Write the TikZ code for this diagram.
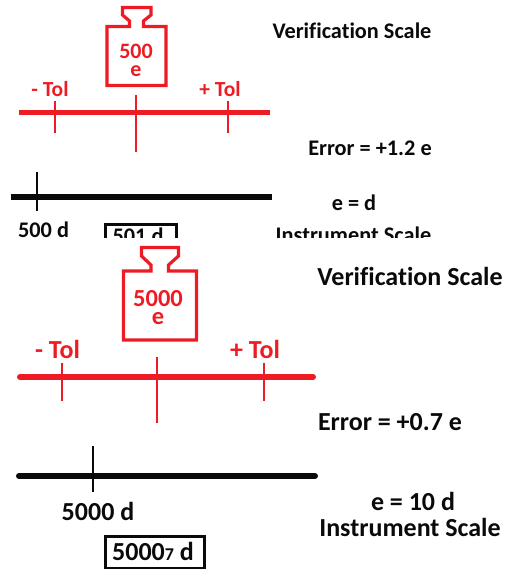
\documentclass[tikz,border=0pt]{standalone}
\usepackage{fontspec}
\setmainfont[Ligatures=NoCommon]{Carlito}
\definecolor{paintred}{RGB}{237,28,36}
\definecolor{inkblack}{RGB}{10,10,10}
\tikzset{
    lbl/.style={anchor=base,
        inner sep=0pt,
        text=inkblack,
        font=\bfseries\fontsize{#1}{#1}\selectfont
    },
    redlbl/.style={lbl=#1,
        text=paintred
    },
    masslbl/.style={lbl=#1,
        anchor=north,
        align=center,
        text=paintred
    },
    weight/.style={draw=paintred,
        line width=3.2pt,
        line join=miter
    },
    tick/.style={line width=1.1pt},
    readbox/.style={draw=inkblack,
        line width=3pt,
        inner sep=0pt,
        anchor=north west
    }
}
\begin{document}
\begin{tikzpicture}[x=1pt,y=-1pt]
    \useasboundingbox (0,0) rectangle (506,569);

    % upper panel (cut off at the bottom)
    \begin{scope}
    \clip (0,0) rectangle (506,237.5);
    \draw[weight] (122.5,7.5) -- (151,7.5) -- (151,15) -- (143.5,21)
        -- (143.5,26.5) -- (166,26.5) -- (166,85.5) -- (107,85.5)
        -- (107,26.5) -- (129.5,26.5) -- (129.5,21) -- (122.5,15) -- cycle;
    \node[masslbl=22] (massA) at (136,44) {500\\[-4pt]e};
    \node[redlbl=21.5] (lowA) at (50,97) {- Tol};
    \node[redlbl=21.5] (highA) at (220,97) {+ Tol};
    \draw[paintred,line width=5pt] (19,113) -- (270,113);
    \draw[paintred,tick] (55,101) -- (55,133);
    \draw[paintred,tick] (136,95) -- (136,152);
    \draw[paintred,tick] (228,101) -- (228,133);
    \draw[inkblack,line width=5pt] (11,197) -- (272,197);
    \draw[inkblack,tick] (37,172) -- (37,211);
    \node[lbl=22.3] (verA) at (352,39) {Verification Scale};
    \node[lbl=22.3] (errA) at (370,156) {Error = +1.2 e};
    \node[lbl=22.3] (ratioA) at (354,211) {e = d};
    \node[lbl=22.3] (readA) at (43.5,237) {500 d};
    \node[readbox,
        minimum width=71pt,
        minimum height=28pt
    ] (boxA) at (103.5,222.5) {};
    \node[lbl=22.3] (showA) at (138,243) {501 d};
    \node[lbl=22.3] (instA) at (353.5,242) {Instrument Scale};
    \end{scope}

    % lower panel
    \draw[weight] (141.5,247.5) -- (178.5,247.5) -- (178.5,256) -- (168.5,265)
        -- (168.5,271) -- (196.5,271) -- (196.5,340) -- (123.5,340)
        -- (123.5,271) -- (151,271) -- (151,265) -- (141.5,256) -- cycle;
    \node[masslbl=24.5] (massB) at (158,290) {5000\\[-6.5pt]e};
    \node[redlbl=26] (lowB) at (57.5,358) {- Tol};
    \node[redlbl=26] (highB) at (255,358) {+ Tol};
    \draw[paintred,line width=6pt,line cap=round] (20,377) -- (313,377);
    \draw[paintred,tick] (62,363) -- (62,401);
    \draw[paintred,tick] (157,357) -- (157,423);
    \draw[paintred,tick] (264,363) -- (264,401);
    \draw[inkblack,line width=6pt,line cap=round] (19,476) -- (315,476);
    \draw[inkblack,tick] (93,446) -- (93,492);
    \node[lbl=26] (verB) at (410,285) {Verification Scale};
    \node[lbl=26] (errB) at (390,430) {Error = +0.7 e};
    \node[lbl=26] (ratioB) at (413,510) {e = 10 d};
    \node[lbl=26] (instB) at (410,536) {Instrument Scale};
    \node[lbl=26] (readB) at (98,520) {5000 d};
    \node[readbox,
        minimum width=99pt,
        minimum height=32pt
    ] (boxB) at (103.5,534.5) {};
    \node[lbl=26] (showB) at (153,560) {5000{\fontsize{18}{18}\selectfont 7} d};
\end{tikzpicture}
\end{document}
